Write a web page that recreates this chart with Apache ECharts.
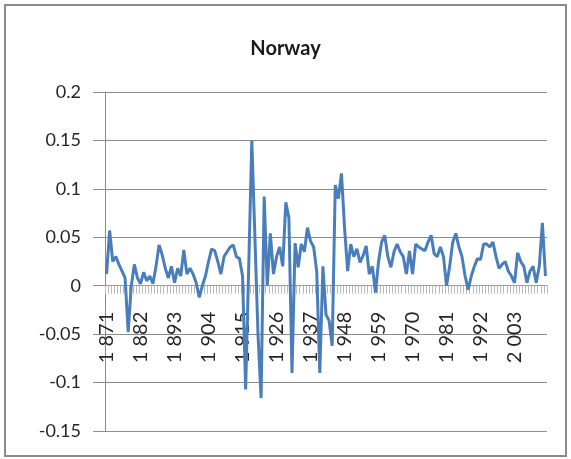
<!DOCTYPE html>
<html>
<head>
<meta charset="utf-8">
<script src="https://cdn.jsdelivr.net/npm/echarts@6/dist/echarts.min.js"></script>
<style>
html,body{margin:0;padding:0;background:#fff;}
#c{width:571px;height:459px;}
</style>
</head>
<body>
<div id="c"></div>
<script>
// Categories: years 1871..2013
var years = [];
for (var yr = 1871; yr <= 2013; yr++) years.push(String(yr));

// Series values (1871 .. 2013)
var v1871_1900 = [0.012, 0.057, 0.025, 0.030, 0.022, 0.015, 0.008, -0.048, 0.000, 0.022,
                  0.008, 0.002, 0.014, 0.005, 0.010, 0.002, 0.020, 0.042, 0.032, 0.018,
                  0.008, 0.020, 0.003, 0.018, 0.010, 0.037, 0.012, 0.018, 0.012, 0.003];
var v1901_1930 = [-0.012, 0.000, 0.010, 0.025, 0.038, 0.036, 0.025, 0.012, 0.030, 0.035,
                  0.040, 0.042, 0.030, 0.028, 0.010, -0.107, 0.020, 0.150, 0.050, -0.050,
                  -0.116, 0.092, 0.000, 0.054, 0.012, 0.030, 0.040, 0.020, 0.086, 0.070];
var v1931_1960 = [-0.090, 0.044, 0.019, 0.043, 0.035, 0.060, 0.046, 0.040, 0.015, -0.090,
                  0.020, -0.030, -0.036, -0.062, 0.104, 0.090, 0.116, 0.060, 0.015, 0.043,
                  0.030, 0.038, 0.024, 0.031, 0.041, 0.012, 0.020, -0.007, 0.025, 0.045];
var v1961_1990 = [0.052, 0.030, 0.019, 0.035, 0.043, 0.035, 0.030, 0.012, 0.036, 0.012,
                  0.043, 0.040, 0.038, 0.036, 0.045, 0.052, 0.033, 0.030, 0.040, 0.030,
                  0.000, 0.020, 0.045, 0.054, 0.040, 0.030, 0.010, -0.004, 0.010, 0.020];
var v1991_2013 = [0.028, 0.027, 0.043, 0.043, 0.040, 0.045, 0.030, 0.018, 0.022, 0.025,
                  0.015, 0.010, 0.003, 0.034, 0.025, 0.020, 0.003, 0.015, 0.020, 0.003,
                  0.020, 0.065, 0.010];
var values = [].concat(v1871_1900, v1901_1930, v1931_1960, v1961_1990, v1991_2013);

var yTicks = { min: -0.15, max: 0.2, interval: 0.05 };

var gridTop = 92, gridBottom = 28, H = 459;
var plotH = H - gridTop - gridBottom;
var zeroOffset = plotH * (0 - yTicks.min) / (yTicks.max - yTicks.min);

var chart = echarts.init(document.getElementById('c'), null, {renderer: 'canvas'});
chart.setOption({
  animation: false,
  backgroundColor: '#ffffff',
  title: {
    text: 'Norway',
    left: 'center',
    top: 34,
    textStyle: { fontFamily: 'Lato', fontSize: 20, fontWeight: 'bold', color: '#1a1a1a' }
  },
  graphic: [{
    type: 'rect',
    shape: { x: 5, y: 5, width: 561, height: 451 },
    style: { fill: 'none', stroke: '#8a8a8a', lineWidth: 2 },
    z: 100
  }],
  grid: { left: 105, right: 24, top: gridTop, bottom: gridBottom, containLabel: false, outerBoundsMode: 'none' },
  xAxis: {
    type: 'category',
    data: years,
    boundaryGap: true,
    offset: -zeroOffset,
    axisLine: { show: true, onZero: false, lineStyle: { color: '#9a9a9a', width: 1 } },
    axisTick: { show: true, interval: 0, length: 8, lineStyle: { color: '#b8b8b8', width: 1 } },
    axisLabel: {
      interval: 10,
      rotate: 90,
      margin: 26,
      fontFamily: 'Lato',
      fontSize: 20,
      color: '#262626',
      formatter: function (v) { return v.charAt(0) + ' ' + v.slice(1); }
    },
    splitLine: { show: false }
  },
  yAxis: {
    type: 'value',
    min: yTicks.min,
    max: yTicks.max,
    interval: yTicks.interval,
    axisLine: { show: true, lineStyle: { color: '#8c8c8c' } },
    axisTick: { show: true, length: 12, lineStyle: { color: '#8c8c8c' } },
    axisLabel: {
      margin: 24,
      fontFamily: 'Lato',
      fontSize: 18,
      color: '#262626',
      formatter: function (v) { return String(parseFloat(v.toFixed(2))); }
    },
    splitLine: { show: true, lineStyle: { color: '#8c8c8c', width: 1 } }
  },
  series: [{
    type: 'line',
    data: values,
    symbol: 'none',
    lineStyle: { color: '#4a7ebb', width: 3 },
    itemStyle: { color: '#4a7ebb' }
  }]
});
</script>
</body>
</html>
